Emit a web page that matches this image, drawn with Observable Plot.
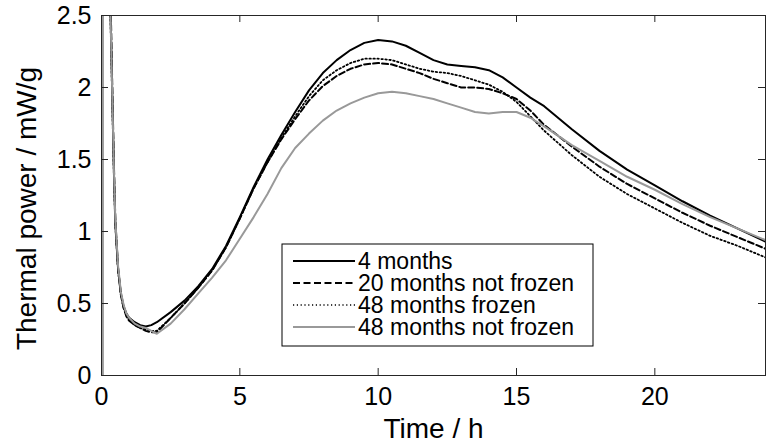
<!DOCTYPE html>
<html><head><meta charset="utf-8">
<script src="https://cdn.jsdelivr.net/npm/d3@7"></script>
<script src="https://cdn.jsdelivr.net/npm/@observablehq/plot@0.6"></script>
<style>body{margin:0;background:#fff} #chart{width:766px;height:442px}</style>
</head><body><div id="chart"></div>
<script>
const seriesNames = ["4 months", "20 months not frozen", "48 months frozen", "48 months not frozen"];
const seriesStrokes = ["#000000", "#000000", "#000000", "#999999"];
const seriesDash = [null, "6,3", "1.5,2.5", null];
const seriesWidths = [2, 2, 1.8, 2];
const spikeHours = [[0.25], [0.27], [0, 0.01], [0.05, 0.06]];
const spikeValues = [[3.5], [3.5], [0, 10], [0, 10]];
const hours = [0.3, 0.35, 0.4, 0.45, 0.5, 0.6, 0.7, 0.8, 0.9, 1.0, 1.2, 1.4, 1.6, 1.8, 2.0, 2.5, 3, 3.5, 4, 4.5, 5, 5.5, 6, 6.5, 7, 7.5, 8, 8.5, 9, 9.5, 10, 10.5, 11, 11.5, 12, 12.5, 13, 13.5, 14, 14.5, 15, 15.5, 16, 17, 18, 19, 20, 21, 22, 23, 24];
const power4m = [2.75, 2.3, 1.85, 1.4, 1.05, 0.74, 0.57, 0.48, 0.43, 0.40, 0.37, 0.35, 0.34, 0.35, 0.37, 0.44, 0.52, 0.62, 0.74, 0.9, 1.1, 1.31, 1.5, 1.67, 1.83, 1.98, 2.1, 2.19, 2.26, 2.31, 2.33, 2.32, 2.29, 2.24, 2.19, 2.16, 2.15, 2.14, 2.12, 2.07, 2.0, 1.93, 1.87, 1.71, 1.56, 1.43, 1.32, 1.21, 1.11, 1.02, 0.93];
const power20mNotFrozen = [2.8, 2.4, 1.9, 1.45, 1.08, 0.74, 0.56, 0.47, 0.41, 0.38, 0.35, 0.33, 0.31, 0.30, 0.30, 0.40, 0.50, 0.61, 0.73, 0.89, 1.09, 1.3, 1.48, 1.64, 1.78, 1.91, 2.01, 2.08, 2.13, 2.16, 2.17, 2.16, 2.13, 2.1, 2.06, 2.03, 2.0, 2.0, 1.99, 1.96, 1.92, 1.84, 1.74, 1.59, 1.45, 1.33, 1.23, 1.13, 1.04, 0.96, 0.88];
const power48mFrozen = [2.7, 2.25, 1.8, 1.38, 1.05, 0.73, 0.56, 0.47, 0.42, 0.39, 0.35, 0.33, 0.32, 0.31, 0.31, 0.40, 0.50, 0.61, 0.73, 0.89, 1.09, 1.3, 1.48, 1.65, 1.8, 1.94, 2.05, 2.12, 2.17, 2.2, 2.2, 2.19, 2.16, 2.13, 2.11, 2.1, 2.08, 2.05, 2.02, 1.97, 1.9, 1.8, 1.7, 1.53, 1.38, 1.26, 1.16, 1.06, 0.97, 0.9, 0.82];
const power48mNotFrozen = [2.75, 2.3, 1.85, 1.42, 1.08, 0.76, 0.58, 0.49, 0.43, 0.40, 0.36, 0.34, 0.33, 0.31, 0.29, 0.36, 0.46, 0.57, 0.68, 0.8, 0.95, 1.1, 1.26, 1.44, 1.58, 1.68, 1.77, 1.84, 1.89, 1.93, 1.96, 1.97, 1.96, 1.94, 1.92, 1.89, 1.86, 1.83, 1.82, 1.83, 1.83, 1.79, 1.73, 1.6, 1.49, 1.38, 1.29, 1.19, 1.1, 1.02, 0.94];
const seriesValues = [power4m, power20mNotFrozen, power48mFrozen, power48mNotFrozen];
const xTicks = [0, 5, 10, 15, 20];
const yTicks = [0, 0.5, 1, 1.5, 2, 2.5];
const yTickLabels = ["0", "0.5", "1", "1.5", "2", "2.5"];
const xLabel = "Time / h";
const yLabel = "Thermal power / mW/g";

const rows = seriesNames.map((name, i) => {
  const ts = spikeHours[i].concat(hours);
  const vs = spikeValues[i].concat(seriesValues[i]);
  return ts.map((t, j) => ({series: name, t, v: vs[j]}));
});

const W = 766, H = 442;
const mL = 101, mR = 1, mT = 15, mB = 67;
const fw = W - mL - mR, fh = H - mT - mB;
const axisColor = "#262626";
const font = "'Liberation Sans', Arial, sans-serif";

function legendMark(index, scales, values, dims) {
  const g = d3.create("svg:g");
  const left = dims.marginLeft + 181, top = dims.marginTop + 229;
  g.append("rect").attr("x", left).attr("y", top).attr("width", 311).attr("height", 102)
    .attr("fill", "#fff").attr("stroke", "#000").attr("stroke-width", 1);
  seriesNames.forEach((name, i) => {
    const cy = top + 17 + 22 * i;
    g.append("line").attr("x1", left + 11).attr("x2", left + 73).attr("y1", cy).attr("y2", cy)
      .attr("stroke", seriesStrokes[i]).attr("stroke-width", i === 2 ? 1.4 : 2)
      .attr("stroke-dasharray", i === 1 ? "7,3.5" : i === 2 ? "1.2,2.6" : null);
    g.append("text").attr("x", left + 76).attr("y", cy).attr("dy", "0.36em")
      .attr("text-anchor", "start")
      .attr("font-size", 23).attr("font-family", font).attr("fill", "#000").text(name);
  });
  return g.node();
}

const chart = Plot.plot({
  width: W, height: H,
  marginLeft: mL, marginRight: mR, marginTop: mT, marginBottom: mB,
  style: {fontFamily: font, fontSize: "25px", color: "#000", background: "#fff"},
  x: {domain: [0, 24]},
  y: {domain: [0, 2.5]},
  marks: [
    ...rows.map((data, i) => Plot.line(data, {
      x: "t", y: "v", stroke: seriesStrokes[i], strokeWidth: seriesWidths[i],
      strokeDasharray: seriesDash[i], clip: true
    })),
    Plot.frame({stroke: axisColor, strokeWidth: 1}),
    Plot.tickX(xTicks, {x: d => d, insetTop: fh - 7, stroke: axisColor}),
    Plot.tickX(xTicks, {x: d => d, insetBottom: fh - 7, stroke: axisColor}),
    Plot.tickY(yTicks, {y: d => d, insetRight: fw - 7, stroke: axisColor}),
    Plot.tickY(yTicks, {y: d => d, insetLeft: fw - 7, stroke: axisColor}),
    Plot.axisX({ticks: xTicks, tickSize: 0, tickPadding: 12, fontSize: 25, label: null}),
    Plot.axisY({ticks: yTicks, tickFormat: d => yTickLabels[yTicks.indexOf(d)], tickSize: 0, tickPadding: 10, fontSize: 25, label: null}),
    Plot.text([xLabel], {text: d => d, frameAnchor: "bottom", dy: 62, lineAnchor: "bottom", fontSize: 28, fill: "#000"}),
    Plot.text([yLabel], {text: d => d, frameAnchor: "left", dx: -74, dy: 13, rotate: -90, textAnchor: "middle", lineAnchor: "middle", fontSize: 28, fill: "#000"}),
    legendMark
  ]
});
document.getElementById("chart").appendChild(chart);
</script>
</body></html>
